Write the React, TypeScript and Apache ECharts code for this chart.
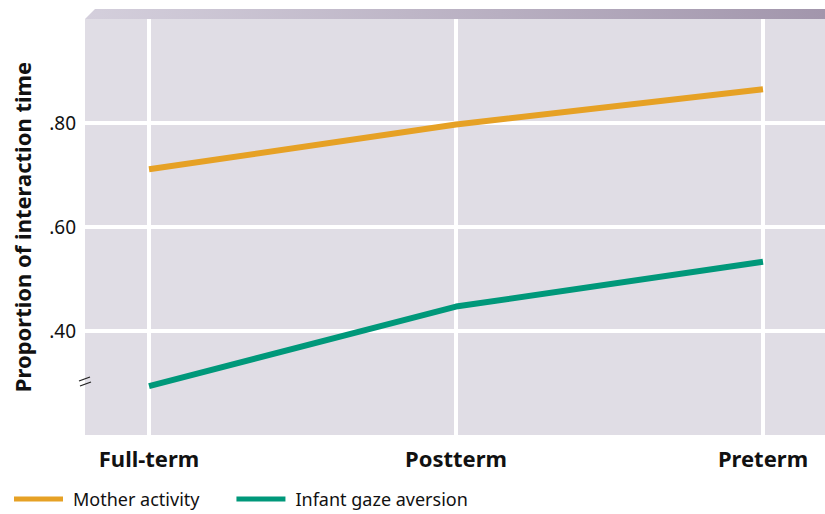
import React, { useEffect, useRef } from "react";
import * as echarts from "echarts";

// Infant group on the horizontal axis
const groups = ["Full-term", "Postterm", "Preterm"];
// Proportion of interaction time
const motherActivity = [0.711, 0.797, 0.865];
const infantGazeAversion = [0.294, 0.447, 0.533];
const seriesNames = ["Mother activity", "Infant gaze aversion"];
const yTickValues = [0.4, 0.6, 0.8];

const FONT = "'Noto Sans', 'Open Sans', sans-serif";
const ORANGE = "#e6a125";
const GREEN = "#00987a";

export default function App() {
  const ref = useRef<HTMLDivElement>(null);

  useEffect(() => {
    if (!ref.current) return;
    const chart = echarts.init(ref.current, undefined, { renderer: "svg" });

    const fmtTick = (v: number) =>
      yTickValues.some((t) => Math.abs(t - v) < 1e-6) ? v.toFixed(2).replace(/^0/, "") : "";

    chart.setOption({
      animation: false,
      backgroundColor: "#ffffff",
      textStyle: { fontFamily: FONT },
      grid: [
        // full plot panel with the horizontal guide lines
        {
          left: 85, right: 0, top: 19, bottom: 79,
          show: true, backgroundColor: "#e0dde5", borderWidth: 0,
          outerBoundsMode: "none",
        },
        // data panel spanning the three groups
        { left: 149, right: 62, top: 19, bottom: 79, show: false, outerBoundsMode: "none" },
      ],
      xAxis: [
        { gridIndex: 0, type: "value", min: 0, max: 1, show: false },
        {
          gridIndex: 1,
          type: "category",
          data: groups,
          boundaryGap: false,
          axisLine: { show: false },
          axisTick: { show: false },
          axisLabel: { color: "#111", fontSize: 22, fontWeight: "bold", margin: 12, fontFamily: FONT },
          splitLine: { show: true, lineStyle: { color: "#ffffff", width: 4 } },
        },
      ],
      yAxis: [
        {
          gridIndex: 0,
          type: "value",
          min: 0.2,
          max: 1.0,
          interval: 0.2,
          name: "Proportion of interaction time",
          nameLocation: "middle",
          nameGap: 52,
          nameTextStyle: { color: "#111", fontSize: 22, fontWeight: "bold", fontFamily: FONT },
          axisLine: { show: false },
          axisTick: { show: false },
          axisLabel: { color: "#111", fontSize: 19, margin: 9, formatter: fmtTick, fontFamily: FONT },
          splitLine: { show: true, showMinLine: false, showMaxLine: false, lineStyle: { color: "#ffffff", width: 4 } },
        },
        { gridIndex: 1, type: "value", min: 0.2, max: 1.0, show: false },
      ],
      legend: {
        left: 14,
        top: 490,
        padding: 0,
        itemWidth: 49,
        itemHeight: 5,
        itemGap: 37,
        icon: "rect",
        textStyle: { color: "#111", fontSize: 18, padding: [0, 0, 0, 5], fontFamily: FONT },
        data: seriesNames,
      },
      series: [
        {
          name: seriesNames[0],
          type: "line",
          xAxisIndex: 1,
          yAxisIndex: 1,
          data: motherActivity,
          symbol: "none",
          color: ORANGE,
          lineStyle: { color: ORANGE, width: 6, cap: "butt" },
          z: 5,
        },
        {
          name: seriesNames[1],
          type: "line",
          xAxisIndex: 1,
          yAxisIndex: 1,
          data: infantGazeAversion,
          symbol: "none",
          color: GREEN,
          lineStyle: { color: GREEN, width: 6, cap: "butt" },
          z: 5,
        },
      ],
      graphic: [
        // bevelled band along the top of the panel
        {
          type: "polygon",
          shape: { points: [[95, 9], [825, 9], [825, 19], [85, 19]] },
          style: {
            fill: new echarts.graphic.LinearGradient(0, 0, 1, 0, [
              { offset: 0, color: "#d4cfdc" },
              { offset: 1, color: "#a296ac" },
            ]),
          },
          silent: true,
        },
        // axis break mark
        {
          type: "line",
          shape: { x1: 79, y1: 381, x2: 90, y2: 377 },
          style: { stroke: "#222", lineWidth: 1.3 },
          silent: true,
        },
        {
          type: "line",
          shape: { x1: 80, y1: 386, x2: 91, y2: 382 },
          style: { stroke: "#222", lineWidth: 1.3 },
          silent: true,
        },
      ],
    });

    return () => chart.dispose();
  }, []);

  return (
    <div
      ref={ref}
      style={{ position: "fixed", left: 0, top: 0, width: 825, height: 514 }}
    />
  );
}
